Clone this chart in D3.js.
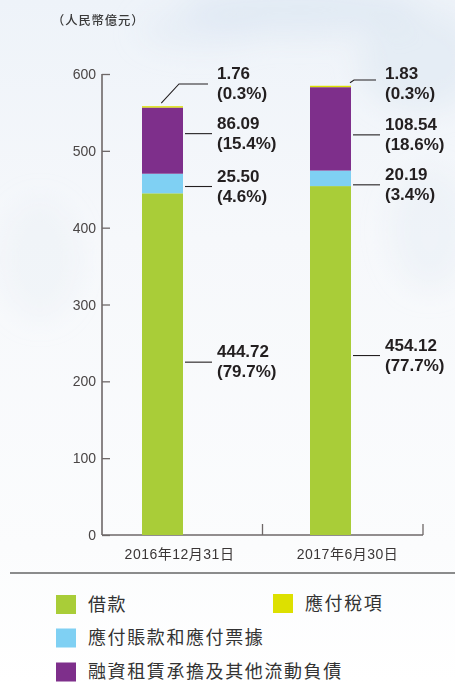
<!DOCTYPE html>
<html>
<head>
<meta charset="utf-8">
<script src="https://cdn.jsdelivr.net/npm/d3@7/dist/d3.min.js"></script>
<style>
  html, body { margin: 0; padding: 0; background: #ffffff; }
  svg { display: block; }
</style>
</head>
<body>
<div id="chart"></div>
<script>
// Periods on the x axis
const categories = ["2016年12月31日", "2017年6月30日"];

// Series (stack order from bottom to top), values in RMB 100 million
const seriesNames = ["借款", "應付賬款和應付票據", "融資租賃承擔及其他流動負債", "應付稅項"];
const loans      = [444.72, 454.12];
const payables   = [25.50, 20.19];
const otherLiab  = [86.09, 108.54];
const taxPayable = [1.76, 1.83];

// Percentage share printed under each value
const loansPct     = ["79.7%", "77.7%"];
const payablesPct  = ["4.6%", "3.4%"];
const otherLiabPct = ["15.4%", "18.6%"];
const taxPct       = ["0.3%", "0.3%"];

// Y axis ticks
const yTicks = [0, 100, 200, 300, 400, 500, 600];
const unitLabel = "（人民幣億元）";

const colors = ["#a9cd38", "#7fd0f3", "#7e2f8b", "#dde000"];

const W = 455, H = 683;
const svg = d3.select("#chart").append("svg").attr("width", W).attr("height", H);

// ---- soft sky background ----
const defs = svg.append("defs");
const bg = defs.append("linearGradient").attr("id", "bg").attr("x1", 0).attr("y1", 0).attr("x2", 0).attr("y2", 1);
bg.append("stop").attr("offset", "0%").attr("stop-color", "#eef3f9");
bg.append("stop").attr("offset", "35%").attr("stop-color", "#f6f8fb");
bg.append("stop").attr("offset", "80%").attr("stop-color", "#fbfcfd");
bg.append("stop").attr("offset", "100%").attr("stop-color", "#ffffff");
defs.append("filter").attr("id", "cloud").attr("x", "-50%").attr("y", "-50%").attr("width", "200%").attr("height", "200%")
  .append("feGaussianBlur").attr("stdDeviation", 14);
svg.append("rect").attr("width", W).attr("height", H).attr("fill", "url(#bg)");
const clouds = svg.append("g").attr("filter", "url(#cloud)").attr("fill", "#dde7f2");
[[300, 10, 120, 25, 0.7], [420, 60, 60, 50, 0.6], [200, 30, 60, 18, 0.4], [430, 230, 40, 60, 0.3], [40, 260, 40, 60, 0.2]]
  .forEach(([cx, cy, rx, ry, o]) => clouds.append("ellipse").attr("cx", cx).attr("cy", cy).attr("rx", rx).attr("ry", ry).attr("opacity", o));

// ---- scales ----
const y = d3.scaleLinear().domain([0, 600]).range([535, 74]);
const xAxisScale = d3.scaleBand().domain(categories).range([102, 423]);
const xBar = d3.scaleBand().domain(categories).range([142, 351]).paddingInner(0.756);

const axisColor = "#6e6868";
const numFont = "'Liberation Sans', Arial, sans-serif";
const cjkFont = "'Liberation Sans', 'Noto Sans CJK TC', sans-serif";

// unit label
svg.append("text").attr("x", 52).attr("y", 24.5)
  .attr("font-family", "'Noto Sans CJK TC', sans-serif").attr("font-size", 12.3).attr("font-weight", 500)
  .attr("letter-spacing", 0.9).attr("fill", "#3a3a3a").text(unitLabel);

// ---- y axis ----
const yAxis = svg.append("g").attr("transform", "translate(102,0)")
  .call(d3.axisRight(y).tickValues(yTicks).tickSize(8).tickFormat(""));
yAxis.select(".domain").remove();
yAxis.selectAll(".tick line").attr("stroke", axisColor).attr("stroke-width", 1.3);
svg.append("line").attr("x1", 102).attr("x2", 102).attr("y1", y(600)).attr("y2", y(0))
  .attr("stroke", axisColor).attr("stroke-width", 1.6);
svg.append("g").selectAll("text").data(yTicks).join("text")
  .attr("x", 96).attr("y", d => y(d)).attr("dy", "0.36em").attr("text-anchor", "end")
  .attr("font-family", numFont).attr("font-size", 14).attr("fill", "#4a4646").text(d => d);

// ---- x axis ----
svg.append("line").attr("x1", 102).attr("x2", 423).attr("y1", y(0)).attr("y2", y(0))
  .attr("stroke", axisColor).attr("stroke-width", 1.6);
svg.append("g").selectAll("line").data(categories).join("line")
  .attr("x1", d => xAxisScale(d) + xAxisScale.bandwidth()).attr("x2", d => xAxisScale(d) + xAxisScale.bandwidth())
  .attr("y1", y(0)).attr("y2", y(0) - 11).attr("stroke", axisColor).attr("stroke-width", 1.3);
svg.append("g").selectAll("text").data(categories).join("text")
  .attr("x", d => xBar(d) + xBar.bandwidth() / 2 + 17).attr("y", 559).attr("text-anchor", "middle")
  .attr("font-family", cjkFont).attr("font-size", 14).attr("letter-spacing", 0.5)
  .attr("fill", "#3a3636").text(d => d);

// ---- stacked bars ----
const rows = categories.map((c, i) => ({
  cat: c, "0": loans[i], "1": payables[i], "2": otherLiab[i], "3": taxPayable[i]
}));
const stack = d3.stack().keys(["0", "1", "2", "3"])(rows);

svg.append("g").selectAll("g").data(stack).join("g")
  .attr("fill", (d, i) => colors[i])
  .selectAll("rect").data(d => d).join("rect")
  .attr("x", d => xBar(d.data.cat))
  .attr("width", xBar.bandwidth())
  .attr("y", d => y(d[1]))
  .attr("height", d => y(d[0]) - y(d[1]));

// ---- value labels with leader lines ----
const values = [loans, payables, otherLiab, taxPayable];
const pcts = [loansPct, payablesPct, otherLiabPct, taxPct];
// vertical fine-tuning of each leader (px), per series then per bar
const leaderNudge = [[-2, -5], [3, 6.5], [-7, 6], [0, 0]];
const labelFont = { family: numFont, size: 17, color: "#231f20" };
const lab = svg.append("g");

function drawLabel(x, ly, v, p) {
  const t = lab.append("text").attr("x", x).attr("font-family", labelFont.family)
    .attr("font-size", labelFont.size).attr("font-weight", 700).attr("fill", labelFont.color);
  t.append("tspan").attr("x", x).attr("y", ly - 5).text(v.toFixed(2));
  t.append("tspan").attr("x", x).attr("y", ly + 15).text("(" + p + ")");
}

categories.forEach((c, j) => {
  const right = xBar(c) + xBar.bandwidth();
  const lineStart = right + 2, lineEnd = right + 29, textX = right + 34;
  for (let s = 0; s < 3; s++) {
    const seg = stack[s][j];
    const ly = y((seg[0] + seg[1]) / 2) + leaderNudge[s][j];
    lab.append("line").attr("x1", lineStart).attr("x2", lineEnd).attr("y1", ly).attr("y2", ly)
      .attr("stroke", "#231f20").attr("stroke-width", 1.1);
    drawLabel(textX, ly, values[s][j], pcts[s][j]);
  }
  // tax label sits above the bar, joined by an angled leader
  const top = y(stack[3][j][1]);
  const ly = y(600) + (j === 0 ? 10 : 6);
  const sx = j === 0 ? xBar(c) + xBar.bandwidth() * 0.47 : right - 1;
  const ex = j === 0 ? right - 4 : right + 3;
  lab.append("path").attr("d", `M${sx},${top - 3}L${ex},${ly}L${lineEnd - 4},${ly}`)
    .attr("fill", "none").attr("stroke", "#231f20").attr("stroke-width", 1.1);
  drawLabel(textX, y(600) + 10, values[3][j], pcts[3][j]);
});

// ---- legend ----
svg.append("line").attr("x1", 10).attr("x2", W).attr("y1", 573).attr("y2", 573)
  .attr("stroke", "#666").attr("stroke-width", 1.5);
const legendItems = [
  { s: 0, x: 56, y: 604.5 },
  { s: 3, x: 273, y: 603.5 },
  { s: 1, x: 56, y: 638 },
  { s: 2, x: 56, y: 672 }
];
const lg = svg.append("g").selectAll("g").data(legendItems).join("g")
  .attr("transform", d => `translate(${d.x},${d.y})`);
lg.append("rect").attr("x", 0).attr("y", -9.5).attr("width", 20).attr("height", 19)
  .attr("fill", d => colors[d.s]);
lg.append("text").attr("x", 32).attr("y", 0).attr("dy", "0.36em")
  .attr("font-family", "'Noto Sans CJK TC', sans-serif").attr("font-size", 18)
  .attr("letter-spacing", 1.6).attr("fill", "#333").text(d => seriesNames[d.s]);
</script>
</body>
</html>
